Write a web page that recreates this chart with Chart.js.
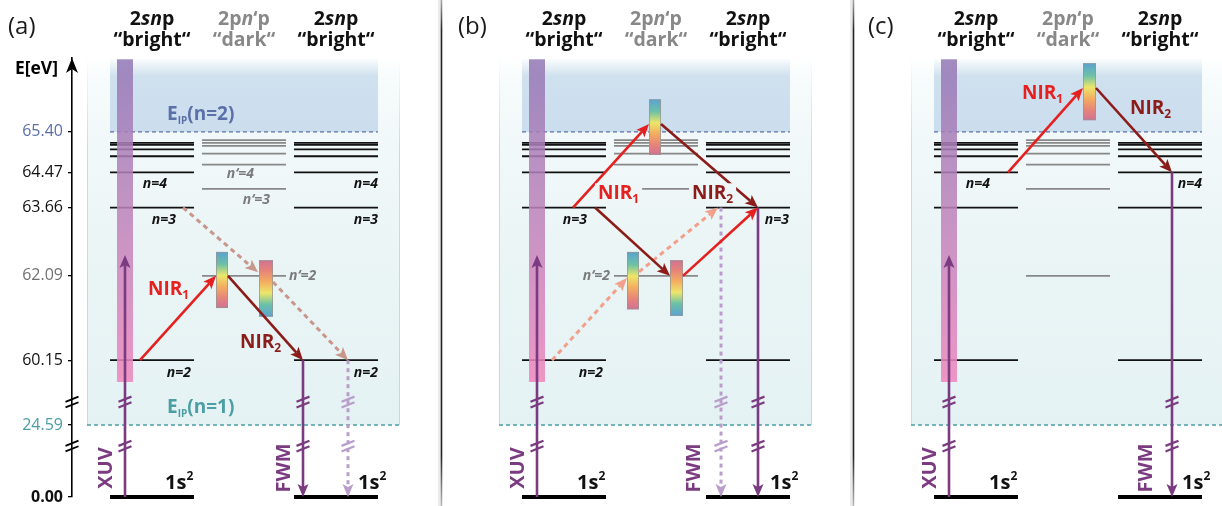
<!DOCTYPE html>
<html>
<head>
<meta charset="utf-8">
<title>Doubly excited helium – bright/dark state coupling</title>
<script src="https://cdn.jsdelivr.net/npm/chart.js@4.4.1/dist/chart.umd.min.js"></script>
<style>
  html, body { margin: 0; padding: 0; background: #fff; }
  canvas { display: block; }
</style>
</head>
<body>
<canvas id="levels" width="1222" height="506"></canvas>
<script>
// ---------------- energies (eV) ----------------
const tickEnergies = [0.00, 24.59, 60.15, 62.09, 63.66, 64.47, 65.40];
const tickLabels   = ['0.00', '24.59', '60.15', '62.09', '63.66', '64.47', '65.40'];
const tickColors   = ['#111111', '#4b9ea4', '#111111', '#707070', '#111111', '#111111', '#5b6fa8'];

const groundEnergy = 0.00;   // 1s²
const ionLimitN1   = 24.59;  // E_IP(n=1)
const ionLimitN2   = 65.40;  // E_IP(n=2)
const brightLevels = [60.15, 63.66, 64.47, 64.84, 65.00, 65.10, 65.15]; // 2snp, n = 2 … 8
const darkLevels   = [62.09, 64.09, 64.65, 64.90, 65.08, 65.15, 65.21]; // 2pn'p, n' = 2 … 8
const xuvBand      = [48.2, 67.07];   // XUV spectrum (bottom sits inside the axis break)
const xuvTip       = 62.57;
const continuumB   = 65.58;           // NIR1 end point above E_IP(n=2), panel (b)
const continuumC   = 66.41;           // NIR1 end point above E_IP(n=2), panel (c)
const axisTop      = 67.10;
const axisBreaks   = [17.4, 37.2];    // where the energy axis is broken

// broken energy axis: [energy, fraction of axis height]
const axisSegments = [[0.00, 0.0], [24.59, 0.164], [60.15, 0.3116], [axisTop, 1.0]];

const [n2, n3, n4] = brightLevels;
const d2 = darkLevels[0];

// ---------------- transitions per panel: [kind, x0, E0, x1, E1] ----------------
const transitionsA = [
  ['nir2Faint', 111, n3, 186, 62.17],
  ['nir2Faint', 201, 61.95, 276, n2],
  ['fwmFaint', 276, n2, 276, groundEnergy],
  ['xuv', 53, groundEnergy, 53, xuvTip],
  ['fwm', 231, n2, 231, groundEnergy],
  ['nir1', 68, n2, 144, d2],
  ['nir2', 156, d2, 231, n2]
];
const transitionsB = [
  ['nir1Faint', 68, n2, 143, 62.04],
  ['nir1Faint', 155, 62.18, 234, n3],
  ['fwmFaint', 237, n3, 237, groundEnergy],
  ['xuv', 53, groundEnergy, 53, xuvTip],
  ['fwm', 274, n3, 274, groundEnergy],
  ['nir1', 89, n3, 165, continuumB],
  ['nir2', 177, continuumB, 274, n3],
  ['nir2', 111, n3, 186, d2],
  ['nir1', 199, d2, 274, n3]
];
const transitionsC = [
  ['xuv', 53, groundEnergy, 53, xuvTip],
  ['fwm', 276, n4, 276, groundEnergy],
  ['nir1', 112, n4, 187, continuumC],
  ['nir2', 200, continuumC, 276, n4]
];
const transitions = [transitionsA, transitionsB, transitionsC];

// NIR bandwidth bars: [x0, x1, Ebottom, Etop, blue on top?]
const spectra = [
  [[144, 156, 61.35, 62.64, true], [187, 201, 61.15, 62.45, false]],
  [[165, 177, 64.87, 66.15, true], [143, 155, 61.32, 62.64, true], [186, 199, 61.17, 62.45, false]],
  [[187, 200, 65.67, 66.98, true]]
];

// level labels: [text, x, energy, align, pixel offset below the line, dark?]
const levelLabels = [
  [['n=4', 95, n4, 'right', 12, false], ['n=3', 104, n3, 'right', 12, false], ['n=2', 119, n2, 'right', 13, false],
   ['n=4', 306, n4, 'right', 12, false], ['n=3', 306, n3, 'right', 12, false], ['n=2', 306, n2, 'right', 13, false],
   ['n\u2018=4', 182, darkLevels[2], 'right', 9, true], ['n\u2018=3', 198, darkLevels[1], 'right', 11, true],
   ['n\u2018=2', 217, d2, 'left', 0, true]],
  [['n=3', 103, n3, 'right', 12, false], ['n=2', 119, n2, 'right', 13, false], ['n=3', 305, n3, 'right', 12, false],
   ['n\u2018=2', 126, d2, 'right', 0, true]],
  [['n=4', 94, n4, 'right', 12, false], ['n=4', 306, n4, 'right', 12, false]]
];

// NIR labels: [index, x, baseline energy, masked background?]
const nirLabels = [
  [['1', 76, 61.65, false], ['2', 168, 60.43, false]],
  [['1', 114, 63.85, true], ['2', 208, 63.85, true]],
  [['1', 126, 66.16, false], ['2', 234, 65.81, false]]
];
const fwmLabelX = [211, 209, 249];

// ---------------- layout (diagram x units, 1 unit = 1 px) ----------------
const FONT = '"Open Sans", "DejaVu Sans", sans-serif';
const PANEL_STEP = 412;
const COL_BRIGHT_L = [38, 122], COL_DARK = [130, 214], COL_BRIGHT_R = [222, 306];
const HEADER_X = [80, 172, 264];
const REGION_X = [15, 328], CONT_X = [38, 306], XUV_BAR_X = [45, 61];
const PANEL_LETTER_X = [-64, -26, -28];

const arrowStyles = {
  xuv:       { color: '#7b3b80', width: 2.6, dash: [] },
  fwm:       { color: '#7b3b80', width: 2.6, dash: [] },
  nir1:      { color: '#e5201f', width: 2.6, dash: [] },
  nir2:      { color: '#8c1c19', width: 2.6, dash: [] },
  nir1Faint: { color: '#f3a08b', width: 3,   dash: [5, 4] },
  nir2Faint: { color: '#c8968a', width: 3,   dash: [5, 4] },
  fwmFaint:  { color: '#b99dcb', width: 3,   dash: [4, 4] }
};

// ---------------- broken energy scale ----------------
function energyToFraction(e) {
  const k = axisSegments;
  for (let i = 1; i < k.length; i++) {
    if (e <= k[i][0] || i === k.length - 1) {
      const [e0, f0] = k[i - 1], [e1, f1] = k[i];
      return f0 + (e - e0) * (f1 - f0) / (e1 - e0);
    }
  }
}
function fractionToEnergy(f) {
  const k = axisSegments;
  for (let i = 1; i < k.length; i++) {
    if (f <= k[i][1] || i === k.length - 1) {
      const [e0, f0] = k[i - 1], [e1, f1] = k[i];
      return e0 + (f - f0) * (e1 - e0) / (f1 - f0);
    }
  }
}
class BrokenEnergyScale extends Chart.LinearScale {
  static id = 'brokenEnergy';
  getPixelForValue(value) {
    return value === null || isNaN(value) ? NaN : this.getPixelForDecimal(energyToFraction(value));
  }
  getValueForPixel(pixel) {
    return fractionToEnergy(this.getDecimalForPixel(pixel));
  }
}
Chart.register(BrokenEnergyScale);

// ---------------- datasets ----------------
function levelSegments(levels, spans) {
  const pts = [];
  for (let p = 0; p < 3; p++) {
    for (const span of spans) {
      for (const e of levels) {
        const o = p * PANEL_STEP;
        pts.push({ x: o + span[0], y: e }, { x: o + span[1], y: e }, { x: o + span[1], y: null });
      }
    }
  }
  return pts;
}
const lineDefaults = { type: 'line', pointRadius: 0, spanGaps: false, clip: false, borderCapStyle: 'butt', fill: false };
const datasets = [
  { ...lineDefaults, label: '2pn\u2018p', data: levelSegments(darkLevels, [COL_DARK]), borderColor: '#888888', borderWidth: 1.7 },
  { ...lineDefaults, label: '2snp', data: levelSegments(brightLevels, [COL_BRIGHT_L, COL_BRIGHT_R]), borderColor: '#111111', borderWidth: 1.8 },
  { ...lineDefaults, label: '1s\u00b2', data: levelSegments([groundEnergy], [COL_BRIGHT_L, COL_BRIGHT_R]), borderColor: '#000', borderWidth: 3.8 }
];
transitions.forEach((list, p) => {
  list.forEach(([kind, x0, e0, x1, e1]) => {
    datasets.push({
      ...lineDefaults, label: kind, arrowKind: kind, showLine: false,
      data: [{ x: p * PANEL_STEP + x0, y: e0 }, { x: p * PANEL_STEP + x1, y: e1 }]
    });
  });
});

// ---------------- drawing helpers ----------------
function richText(ctx, runs, x, y, align) {
  let w = 0;
  runs.forEach(r => { ctx.font = r.font; r.w = ctx.measureText(r.t).width; w += r.w; });
  let cx = align === 'center' ? x - w / 2 : align === 'right' ? x - w : x;
  ctx.textAlign = 'left';
  ctx.textBaseline = 'alphabetic';
  runs.forEach(r => { ctx.font = r.font; ctx.fillStyle = r.color; ctx.fillText(r.t, cx, y + (r.dy || 0)); cx += r.w; });
  return w;
}
function drawArrow(ctx, x0, y0, x1, y1, st) {
  const dx = x1 - x0, dy = y1 - y0, len = Math.hypot(dx, dy);
  const ux = dx / len, uy = dy / len, px = -uy, py = ux;
  const L = 13, W = 5.5, notch = 3;
  const bx = x1 - ux * (L - notch), by = y1 - uy * (L - notch);
  ctx.save();
  ctx.strokeStyle = st.color; ctx.lineWidth = st.width; ctx.setLineDash(st.dash); ctx.lineCap = 'butt';
  ctx.beginPath(); ctx.moveTo(x0, y0); ctx.lineTo(bx, by); ctx.stroke();
  ctx.setLineDash([]);
  ctx.fillStyle = st.color;
  ctx.beginPath();
  ctx.moveTo(x1, y1);
  ctx.lineTo(x1 - ux * L + px * W, y1 - uy * L + py * W);
  ctx.lineTo(bx, by);
  ctx.lineTo(x1 - ux * L - px * W, y1 - uy * L - py * W);
  ctx.closePath(); ctx.fill();
  ctx.restore();
}
function drawBreak(ctx, x, y, color, width) {
  ctx.save();
  ctx.strokeStyle = color; ctx.lineWidth = width; ctx.setLineDash([]); ctx.lineCap = 'butt';
  for (const off of [-2.8, 2.8]) {
    ctx.beginPath(); ctx.moveTo(x - 6.5, y + off + 2.6); ctx.lineTo(x + 6.5, y + off - 2.6); ctx.stroke();
  }
  ctx.restore();
}
function drawSpectrum(ctx, x0, x1, yTop, yBot, blueOnTop) {
  const g = ctx.createLinearGradient(0, yTop, 0, yBot);
  const stops = [['#5aa2d2', 0], ['#6cc1a6', 0.22], ['#ece66a', 0.42], ['#f3ad60', 0.62], ['#e6837a', 0.82], ['#d07293', 1]];
  stops.forEach(([c, s]) => g.addColorStop(blueOnTop ? s : 1 - s, c));
  ctx.save();
  ctx.fillStyle = g;
  ctx.fillRect(x0, yTop, x1 - x0, yBot - yTop);
  ctx.strokeStyle = 'rgba(150,150,150,0.75)'; ctx.lineWidth = 1;
  ctx.strokeRect(x0 + 0.5, yTop + 0.5, x1 - x0 - 1, yBot - yTop - 1);
  ctx.restore();
}

// ---------------- diagram plugin ----------------
const diagramPlugin = {
  id: 'levelDiagram',
  beforeDatasetsDraw(chart) {
    const { ctx, chartArea, scales: { x, y } } = chart;
    const top = chartArea.top, yIp2 = y.getPixelForValue(ionLimitN2), yIp1 = y.getPixelForValue(ionLimitN1);
    for (let p = 0; p < 3; p++) {
      const o = p * PANEL_STEP;
      const rx0 = x.getPixelForValue(o + REGION_X[0]), rx1 = x.getPixelForValue(o + REGION_X[1]);
      // bound-state region between the two ionization thresholds
      const g = ctx.createLinearGradient(0, top, 0, yIp1);
      g.addColorStop(0, 'rgba(240,248,249,0)');
      g.addColorStop(0.08, '#f6fbfb');
      g.addColorStop(0.25, '#f1f8f9');
      g.addColorStop(0.6, '#e9f4f5');
      g.addColorStop(1, '#e5f2f3');
      ctx.fillStyle = g;
      ctx.fillRect(rx0, top, rx1 - rx0, yIp1 - top);
      const gb = ctx.createLinearGradient(0, top, 0, yIp1);
      gb.addColorStop(0, 'rgba(190,220,222,0)');
      gb.addColorStop(0.25, 'rgba(190,220,222,0.9)');
      gb.addColorStop(1, '#bcdcde');
      ctx.strokeStyle = gb; ctx.lineWidth = 1;
      ctx.beginPath();
      ctx.moveTo(rx0 + 0.5, top); ctx.lineTo(rx0 + 0.5, yIp1);
      ctx.moveTo(rx1 - 0.5, top); ctx.lineTo(rx1 - 0.5, yIp1);
      ctx.stroke();
      // continuum above E_IP(n=2)
      const cx0 = x.getPixelForValue(o + CONT_X[0]), cx1 = x.getPixelForValue(o + CONT_X[1]);
      const gc = ctx.createLinearGradient(0, top, 0, yIp2);
      gc.addColorStop(0, 'rgba(207,224,238,0)');
      gc.addColorStop(0.25, '#cfe0ee');
      gc.addColorStop(1, '#cbdeee');
      ctx.fillStyle = gc;
      ctx.fillRect(cx0, top, cx1 - cx0, yIp2 - top);
      // threshold lines
      ctx.save();
      ctx.lineWidth = 1.3; ctx.setLineDash([4, 3]);
      ctx.strokeStyle = '#5b6fa8';
      ctx.beginPath(); ctx.moveTo(cx0, yIp2); ctx.lineTo(cx1, yIp2); ctx.stroke();
      ctx.strokeStyle = '#4b9ea4';
      ctx.beginPath(); ctx.moveTo(rx0, yIp1); ctx.lineTo(rx1, yIp1); ctx.stroke();
      ctx.restore();
    }
    // panel separators
    for (let p = 1; p < 3; p++) {
      const sx = Math.round(x.getPixelForValue(p * PANEL_STEP - 43)) + 0.5;
      const gs = ctx.createLinearGradient(0, 0, 0, chart.height);
      gs.addColorStop(0, 'rgba(40,40,40,0.35)');
      gs.addColorStop(0.06, '#222');
      gs.addColorStop(0.9, '#222');
      gs.addColorStop(1, 'rgba(40,40,40,0.25)');
      ctx.save();
      ctx.strokeStyle = 'rgba(0,0,0,0.08)'; ctx.lineWidth = 4;
      ctx.beginPath(); ctx.moveTo(sx - 1.5, 0); ctx.lineTo(sx - 1.5, chart.height); ctx.stroke();
      ctx.strokeStyle = gs; ctx.lineWidth = 1.6;
      ctx.beginPath(); ctx.moveTo(sx, 0); ctx.lineTo(sx, chart.height); ctx.stroke();
      ctx.restore();
    }
  },
  afterDatasetsDraw(chart) {
    const { ctx, scales: { x, y } } = chart;
    // XUV spectra
    for (let p = 0; p < 3; p++) {
      const o = p * PANEL_STEP;
      const bx0 = x.getPixelForValue(o + XUV_BAR_X[0]), bx1 = x.getPixelForValue(o + XUV_BAR_X[1]);
      const byT = y.getPixelForValue(xuvBand[1]), byB = y.getPixelForValue(xuvBand[0]);
      const g = ctx.createLinearGradient(0, byT, 0, byB);
      g.addColorStop(0, '#9479b6');
      g.addColorStop(0.5, '#bf84bb');
      g.addColorStop(1, '#ef86bd');
      ctx.save(); ctx.globalAlpha = 0.86; ctx.fillStyle = g;
      ctx.fillRect(bx0, byT, bx1 - bx0, byB - byT);
      ctx.restore();
    }
    // NIR bandwidths
    spectra.forEach((list, p) => {
      list.forEach(([x0, x1, eB, eT, blueTop]) => {
        drawSpectrum(ctx, x.getPixelForValue(p * PANEL_STEP + x0), x.getPixelForValue(p * PANEL_STEP + x1),
          y.getPixelForValue(eT), y.getPixelForValue(eB), blueTop);
      });
    });
    // transitions
    chart.data.datasets.forEach((ds, i) => {
      if (!ds.arrowKind) return;
      const [a, b] = chart.getDatasetMeta(i).data;
      const st = arrowStyles[ds.arrowKind];
      drawArrow(ctx, a.x, a.y, b.x, b.y, st);
      if (Math.abs(a.x - b.x) < 0.5) {
        const lo = Math.min(ds.data[0].y, ds.data[1].y), hi = Math.max(ds.data[0].y, ds.data[1].y);
        axisBreaks.forEach(e => { if (e > lo && e < hi) drawBreak(ctx, a.x, y.getPixelForValue(e), st.color, 2.2); });
      }
    });
    // labels
    ctx.save();
    for (let p = 0; p < 3; p++) {
      const o = p * PANEL_STEP;
      const X = u => x.getPixelForValue(o + u);
      // column headers
      const bold = s => `bold ${s}px ${FONT}`, boldIt = s => `italic bold ${s}px ${FONT}`;
      const hdr = [['#111', [['2', 0], ['sn', 1], ['p', 0]], '\u201cbright\u201c'],
                   ['#888888', [['2p', 0], ['n', 1], ['\u2018p', 0]], '\u201cdark\u201c'],
                   ['#111', [['2', 0], ['sn', 1], ['p', 0]], '\u201cbright\u201c']];
      hdr.forEach(([col, parts, second], k) => {
        richText(ctx, parts.map(([t, it]) => ({ t, font: it ? boldIt(19.5) : bold(19.5), color: col })), X(HEADER_X[k]), 25, 'center');
        richText(ctx, [{ t: second, font: bold(19.5), color: col }], X(HEADER_X[k]), 46, 'center');
      });
      // panel letter
      ctx.font = `24px ${FONT}`; ctx.fillStyle = '#1a1a1a'; ctx.textAlign = 'left'; ctx.textBaseline = 'alphabetic';
      ctx.fillText(['(a)', '(b)', '(c)'][p], X(PANEL_LETTER_X[p]), 34);
      // ionization threshold labels
      if (p === 0) {
        [[ionLimitN2, '(n=2)', '#5b6fa8'], [ionLimitN1, '(n=1)', '#4b9ea4']].forEach(([e, t, c]) => {
          richText(ctx, [{ t: 'E', font: bold(19), color: c }, { t: 'IP', font: bold(10), color: c, dy: 4 },
                         { t, font: bold(19), color: c }], X(95), y.getPixelForValue(e) - 12, 'left');
        });
      }
      // level labels
      levelLabels[p].forEach(([t, u, e, align, off, dark]) => {
        ctx.font = boldIt(14); ctx.fillStyle = dark ? '#7a7a7a' : '#111';
        ctx.textAlign = align; ctx.textBaseline = 'middle';
        ctx.fillText(t, X(u), y.getPixelForValue(e) + off);
      });
      // NIR labels
      nirLabels[p].forEach(([idx, u, e, masked]) => {
        const c = idx === '1' ? '#e5201f' : '#8c1c19';
        const runs = [{ t: 'NIR', font: bold(19), color: c }, { t: idx, font: bold(12), color: c, dy: 4 }];
        const bl = y.getPixelForValue(e);
        if (masked) {
          let w = 0; runs.forEach(r => { ctx.font = r.font; w += ctx.measureText(r.t).width; });
          ctx.fillStyle = '#eef6f7'; ctx.fillRect(X(u) - 3, bl - 16, w + 6, 22);
        }
        richText(ctx, runs, X(u), bl, 'left');
      });
      // ground state labels
      const yG = y.getPixelForValue(groundEnergy) - 8;
      [93, 286].forEach(u => richText(ctx, [{ t: '1s', font: bold(20), color: '#111' }, { t: '2', font: bold(12), color: '#111', dy: -9 }], X(u), yG, 'left'));
      // XUV / FWM labels (rotated)
      [['XUV', 33], ['FWM', fwmLabelX[p]]].forEach(([t, u]) => {
        ctx.save();
        ctx.translate(X(u), y.getPixelForValue(groundEnergy) - 29);
        ctx.rotate(-Math.PI / 2);
        ctx.font = bold(20); ctx.fillStyle = '#7b3b80'; ctx.textAlign = 'center'; ctx.textBaseline = 'middle';
        ctx.fillText(t, 0, 1);
        ctx.restore();
      });
    }
    ctx.restore();
  },
  afterDraw(chart) {
    const { ctx, chartArea, scales: { y } } = chart;
    const ax = chartArea.left;
    // axis arrow head and title
    ctx.save();
    ctx.fillStyle = '#000';
    ctx.beginPath();
    ctx.moveTo(ax, chartArea.top);
    ctx.lineTo(ax - 6, chartArea.top + 15);
    ctx.lineTo(ax, chartArea.top + 11);
    ctx.lineTo(ax + 6, chartArea.top + 15);
    ctx.closePath(); ctx.fill();
    ctx.font = `bold 17.5px ${FONT}`; ctx.textAlign = 'right'; ctx.textBaseline = 'alphabetic';
    ctx.fillText('E[eV]', ax - 14, chartArea.top + 16);
    ctx.restore();
    axisBreaks.forEach(e => drawBreak(ctx, ax, y.getPixelForValue(e), '#000', 1.8));
  }
};

// ---------------- chart ----------------
new Chart(document.getElementById('levels'), {
  type: 'line',
  data: { datasets },
  options: {
    responsive: false,
    animation: false,
    devicePixelRatio: 1,
    events: [],
    layout: { padding: { top: 58, bottom: 9, left: 0, right: 0 } },
    plugins: { legend: { display: false }, tooltip: { enabled: false } },
    scales: {
      x: { type: 'linear', min: 0, max: 1150, display: false },
      y: {
        type: 'brokenEnergy',
        position: 'left',
        min: 0,
        max: axisTop,
        afterBuildTicks: s => { s.ticks = tickEnergies.map(v => ({ value: v })); },
        afterFit: s => { s.width = 72; s.paddingTop = 0; s.paddingBottom = 0; },
        border: { display: true, color: '#000', width: 1.6 },
        grid: { drawOnChartArea: false, drawTicks: true, tickLength: 4, color: '#000', lineWidth: 1.3 },
        ticks: {
          autoSkip: false,
          padding: 5,
          callback: (v, i) => tickLabels[i],
          color: c => tickColors[c.index],
          font: c => ({ family: FONT, size: 16, weight: c.index === 0 ? 'bold' : 'normal' })
        }
      }
    }
  },
  plugins: [diagramPlugin]
});
</script>
</body>
</html>
